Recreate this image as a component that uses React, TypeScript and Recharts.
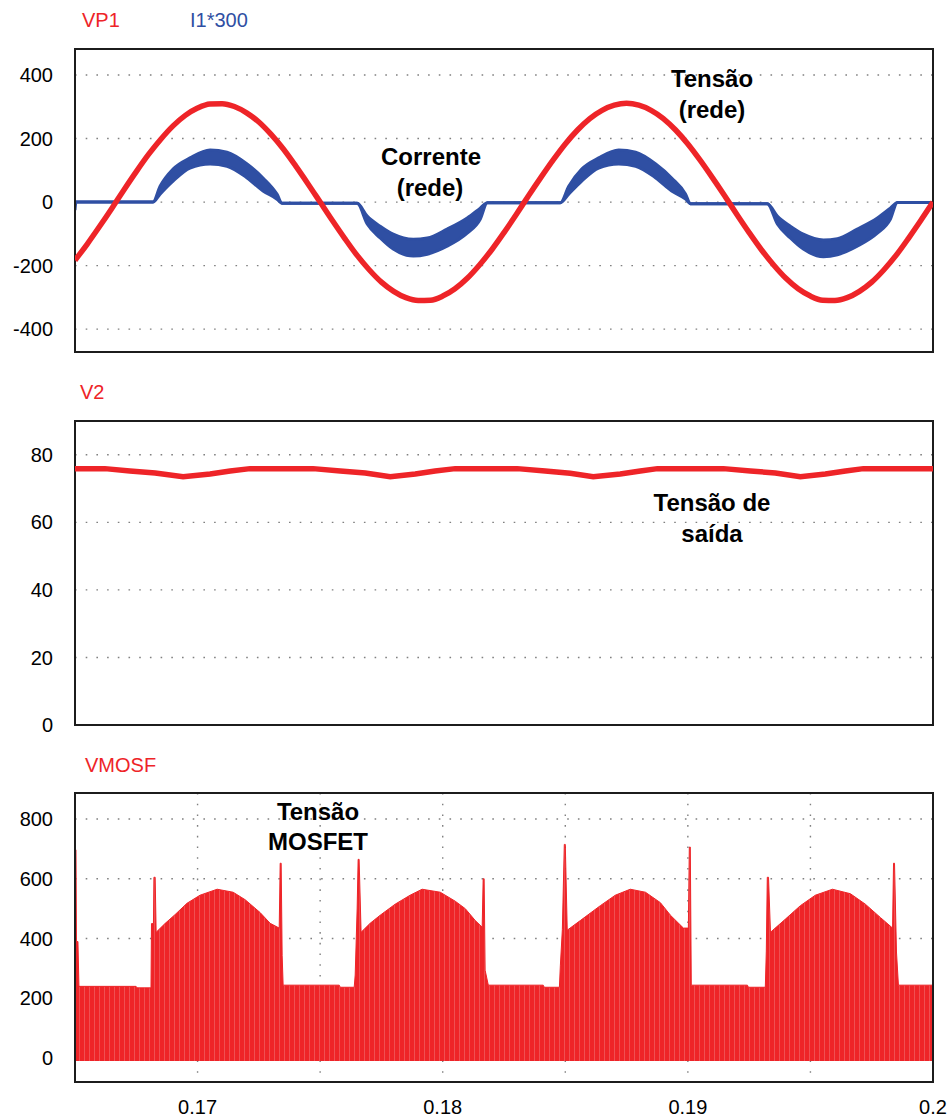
import React from 'react';
import { ComposedChart, Line, Area, XAxis, YAxis, CartesianGrid, ReferenceArea } from 'recharts';

// time axis in seconds
const X_DOMAIN = [0.165, 0.2];
const xTicks = [0.17, 0.175, 0.18, 0.185, 0.19, 0.195, 0.2];
const xLabelled = [0.17, 0.18, 0.19, 0.2];

// VP1 - grid voltage
const vp1Time = [
  0.165, 0.1655, 0.166, 0.1665, 0.167, 0.1675, 0.168, 0.1685, 0.169, 0.1695,
  0.17, 0.1705, 0.171, 0.1715, 0.172, 0.1725, 0.173, 0.1735, 0.174, 0.1745,
  0.175, 0.1755, 0.176, 0.1765, 0.177, 0.1775, 0.178, 0.1785, 0.179, 0.1795,
  0.18, 0.1805, 0.181, 0.1815, 0.182, 0.1825, 0.183, 0.1835, 0.184, 0.1845,
  0.185, 0.1855, 0.186, 0.1865, 0.187, 0.1875, 0.188, 0.1885, 0.189, 0.1895,
  0.19, 0.1905, 0.191, 0.1915, 0.192, 0.1925, 0.193, 0.1935, 0.194, 0.1945,
  0.195, 0.1955, 0.196, 0.1965, 0.197, 0.1975, 0.198, 0.1985, 0.199, 0.1995,
  0.2,
];
const vp1Values = [
  -183, -132, -77, -20, 39, 96, 150, 198, 240, 273,
  296, 309, 310, 301, 281, 252, 213, 167, 114, 58,
  0, -58, -114, -167, -213, -252, -281, -301, -310, -309,
  -296, -273, -240, -198, -150, -96, -39, 20, 77, 132,
  183, 227, 263, 289, 305, 311, 305, 289, 263, 227,
  183, 132, 77, 20, -39, -96, -150, -198, -240, -273,
  -296, -309, -310, -301, -281, -252, -213, -167, -114, -58,
  0,
];

// I1*300 - grid current (ripple band: low / high edge)
const curTime = [
  0.165, 0.16504, 0.16818, 0.16847, 0.169, 0.16969, 0.17051, 0.1712, 0.17202, 0.17267,
  0.17324, 0.17345, 0.17651, 0.17692, 0.17745, 0.17798, 0.1788, 0.17937, 0.18018, 0.181,
  0.18153, 0.18182, 0.1848, 0.18514, 0.18567, 0.18636, 0.18718, 0.18787, 0.18869, 0.18934,
  0.18991, 0.1901, 0.19324, 0.19365, 0.19418, 0.19471, 0.19553, 0.1961, 0.19691, 0.19773,
  0.19826, 0.19855, 0.2,
];
const curLow = [
  -25, 0, 0, 25, 66, 107, 120, 113, 76, 35,
  9, -4, -4, -69, -113, -148, -170, -164, -139, -98,
  -54, -2, -2, 25, 66, 107, 120, 113, 76, 35,
  9, -5, -5, -69, -113, -148, -172, -166, -139, -98,
  -54, -1, -1,
];
const curHigh = [
  0, 0, 0, 50, 104, 139, 164, 157, 120, 76,
  25, -4, -4, -44, -76, -101, -117, -113, -85, -50,
  -19, -2, -2, 50, 104, 139, 164, 157, 120, 76,
  25, -5, -5, -44, -76, -101, -119, -115, -85, -50,
  -19, -1, -1,
];

// V2 - output voltage
const v2Time = [
  0.165, 0.16622, 0.16724, 0.16827, 0.16941, 0.17051, 0.17133, 0.17214, 0.17471, 0.17582,
  0.17684, 0.17786, 0.17888, 0.17969, 0.18051, 0.18304, 0.18418, 0.1852, 0.18614, 0.18724,
  0.18806, 0.18876, 0.19145, 0.19255, 0.19357, 0.19459, 0.19561, 0.19643, 0.19716, 0.2,
];
const v2Values = [
  75.9, 75.9, 75.2, 74.6, 73.5, 74.3, 75.2, 75.9, 75.9, 75.2,
  74.6, 73.5, 74.3, 75.2, 75.9, 75.9, 75.2, 74.5, 73.5, 74.3,
  75.2, 75.9, 75.9, 75.2, 74.6, 73.5, 74.3, 75.2, 75.9, 75.9,
];

// VMOSF - switch voltage (upper envelope of the switching pulses)
const vmosTime = [
  0.165, 0.16504, 0.16506, 0.16512, 0.16516, 0.16749, 0.16753, 0.1681, 0.16812, 0.1682,
  0.16822, 0.16827, 0.16831, 0.16867, 0.16908, 0.16957, 0.1701, 0.1708, 0.17145, 0.17194,
  0.17255, 0.17296, 0.17333, 0.17337, 0.17341, 0.17345, 0.17349, 0.17578, 0.17582, 0.17639,
  0.17643, 0.17651, 0.17655, 0.17659, 0.17667, 0.17704, 0.17745, 0.17806, 0.17867, 0.17916,
  0.1799, 0.18051, 0.18092, 0.18133, 0.18161, 0.18165, 0.18169, 0.18173, 0.18186, 0.1841,
  0.18414, 0.18476, 0.1848, 0.18488, 0.18496, 0.185, 0.18508, 0.18561, 0.18643, 0.18704,
  0.18765, 0.18827, 0.18888, 0.18929, 0.18982, 0.19002, 0.19006, 0.1901, 0.19014, 0.19243,
  0.19247, 0.19316, 0.1932, 0.19324, 0.19329, 0.19337, 0.19398, 0.19459, 0.1952, 0.1959,
  0.19663, 0.19724, 0.19786, 0.19835, 0.19839, 0.19843, 0.19851, 0.19859, 0.2,
];
const vmosValues = [
  697, 697, 390, 390, 240, 240, 235, 235, 450, 450,
  605, 605, 421, 450, 480, 518, 545, 565, 555, 530,
  487, 451, 435, 652, 652, 344, 244, 244, 237, 237,
  278, 502, 665, 665, 421, 451, 478, 515, 545, 565,
  555, 525, 500, 460, 438, 600, 600, 294, 244, 244,
  237, 237, 311, 430, 715, 715, 428, 460, 510, 545,
  565, 555, 520, 478, 435, 435, 706, 706, 244, 244,
  237, 237, 358, 605, 605, 421, 465, 510, 545, 565,
  550, 515, 470, 435, 652, 652, 355, 244, 244,
];

const RED = '#ee2428';
const BLUE = '#2f4fa3';
const FONT = '"Liberation Sans", Arial, Helvetica, sans-serif';

const vp1Data = vp1Time.map((t, i) => ({ t, v: vp1Values[i] }));
const curData = curTime.map((t, i) => ({ t, r: [curLow[i], curHigh[i]] }));
const v2Data = v2Time.map((t, i) => ({ t, v: v2Values[i] }));
const vmosData = vmosTime.map((t, i) => ({ t, v: vmosValues[i] }));

const fmtX = (v: number) => (xLabelled.some((l) => Math.abs(l - v) < 1e-9) ? String(v) : '');

interface PanelProps {
  top: number;
  height: number;
  plotTop: number;
  plotBottom: number;
  yDomain: [number, number];
  yTicks: number[];
  showX?: boolean;
  children: React.ReactNode;
}

const Panel: React.FC<PanelProps> = ({ top, height, plotTop, plotBottom, yDomain, yTicks, showX = false, children }) => {
  const xh = showX ? 30 : 0;
  return (
    <div style={{ position: 'absolute', left: 0, top, width: 950, height }}>
      <ComposedChart
        width={950}
        height={height}
        margin={{ top: plotTop, right: 17, bottom: height - plotBottom - xh, left: 0 }}
      >
        <defs>
          <pattern id="switching" width="5" height="10" patternUnits="userSpaceOnUse">
            <rect width="5" height="10" fill={RED} />
            <rect x="4.3" width="0.5" height="10" fill="#f37a7c" />
          </pattern>
        </defs>
        <CartesianGrid stroke="#808080" strokeWidth={1.4} strokeDasharray="1.6 9.1" />
        <XAxis
          type="number"
          dataKey="t"
          domain={X_DOMAIN}
          ticks={xTicks}
          allowDataOverflow
          interval={0}
          height={xh}
          axisLine={false}
          tickLine={false}
          tickSize={0}
          tickMargin={18}
          tickFormatter={fmtX}
          tick={showX ? { fontFamily: FONT, fontSize: 20, fill: '#000' } : false}
        />
        <YAxis
          type="number"
          domain={yDomain}
          ticks={yTicks}
          allowDataOverflow
          interval={0}
          width={75}
          axisLine={false}
          tickLine={false}
          tickSize={0}
          tickMargin={22}
          tick={{ fontFamily: FONT, fontSize: 20, fill: '#000' }}
        />
        {children}
        <ReferenceArea
          x1={X_DOMAIN[0]}
          x2={X_DOMAIN[1]}
          y1={yDomain[0]}
          y2={yDomain[1]}
          fill="none"
          stroke="#1c1c1c"
          strokeWidth={2}
        />
      </ComposedChart>
    </div>
  );
};

const Txt: React.FC<{ x: number; y: number; color?: string; bold?: boolean; size?: number; center?: boolean; children: React.ReactNode }> = ({
  x, y, color = '#000', bold = false, size = 20, center = false, children,
}) => (
  <div
    style={{
      position: 'absolute',
      left: x,
      top: y,
      transform: center ? 'translate(-50%, -50%)' : 'translate(0, -50%)',
      color,
      fontFamily: FONT,
      fontSize: size,
      fontWeight: bold ? 700 : 400,
      lineHeight: 1,
      whiteSpace: 'nowrap',
    }}
  >
    {children}
  </div>
);

const App: React.FC = () => {
  return (
    <div style={{ position: 'absolute', left: 0, top: 0, width: 950, height: 1119, background: '#fff', overflow: 'hidden' }}>
      <Panel top={0} height={372} plotTop={49} plotBottom={352} yDomain={[-472, 482]} yTicks={[-400, -200, 0, 200, 400]}>
        <Area
          data={curData}
          dataKey="r"
          type="monotone"
          stroke={BLUE}
          strokeWidth={3}
          fill={BLUE}
          fillOpacity={1}
          dot={false}
          activeDot={false}
          isAnimationActive={false}
        />
        <Line
          data={vp1Data}
          dataKey="v"
          type="monotone"
          stroke={RED}
          strokeWidth={5.5}
          dot={false}
          activeDot={false}
          isAnimationActive={false}
        />
      </Panel>

      <Panel top={380} height={360} plotTop={41} plotBottom={345} yDomain={[0, 90]} yTicks={[0, 20, 40, 60, 80]}>
        <Line
          data={v2Data}
          dataKey="v"
          type="linear"
          stroke={RED}
          strokeWidth={5.5}
          dot={false}
          activeDot={false}
          isAnimationActive={false}
        />
      </Panel>

      <Panel top={750} height={369} plotTop={43} plotBottom={332} yDomain={[-80, 887]} yTicks={[0, 200, 400, 600, 800]} showX>
        <Area
          data={vmosData}
          dataKey="v"
          type="linear"
          baseValue={-10}
          stroke={RED}
          strokeWidth={1}
          fill="url(#switching)"
          fillOpacity={1}
          dot={false}
          activeDot={false}
          isAnimationActive={false}
        />
      </Panel>

      <Txt x={82} y={20} color={RED}>VP1</Txt>
      <Txt x={190} y={20} color={BLUE}>I1*300</Txt>
      <Txt x={80} y={392} color={RED}>V2</Txt>
      <Txt x={85} y={765} color={RED}>VMOSF</Txt>

      <Txt x={431} y={157} bold size={24} center>Corrente</Txt>
      <Txt x={430} y={188} bold size={24} center>(rede)</Txt>
      <Txt x={712} y={79} bold size={24} center>Tensão</Txt>
      <Txt x={712} y={110} bold size={24} center>(rede)</Txt>
      <Txt x={712} y={503} bold size={24} center>Tensão de</Txt>
      <Txt x={712} y={534} bold size={24} center>saída</Txt>
      <Txt x={318} y={812} bold size={24} center>Tensão</Txt>
      <Txt x={318} y={842} bold size={24} center>MOSFET</Txt>
    </div>
  );
};

export default App;
